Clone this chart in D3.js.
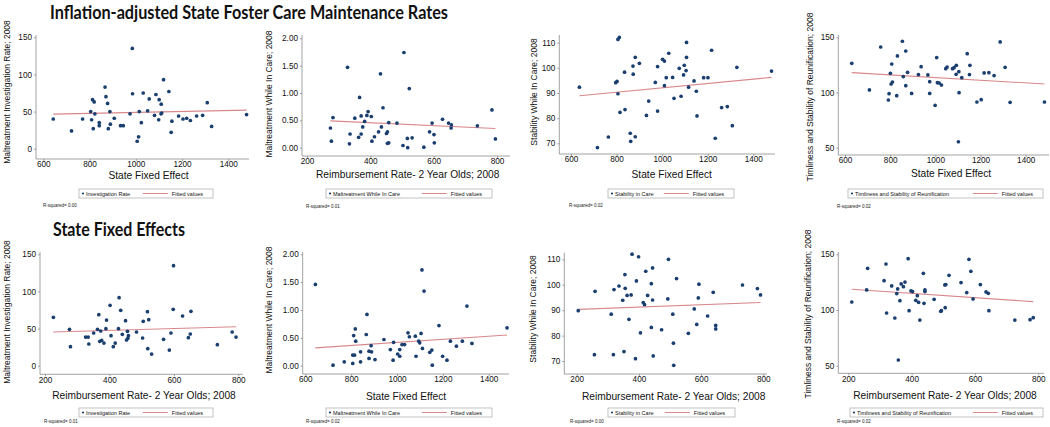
<!DOCTYPE html>
<html><head><meta charset="utf-8">
<script src="https://cdn.jsdelivr.net/npm/d3@7/dist/d3.min.js"></script>
<style>
body{margin:0;background:#fff;}
svg{display:block;font-family:"Liberation Sans",Arial,sans-serif;}
</style></head>
<body>
<svg id="c" width="1050" height="427"></svg>
<script>
// ---------- data ----------
const mainTitle = "Inflation-adjusted State Foster Care Maintenance Rates";
const subTitle = "State Fixed Effects";
const sfeTicks = [600, 800, 1000, 1200, 1400];
const reimbTicks = [200, 400, 600, 800];
const rateTicks = [0, 50, 100, 150];
const careTicks = [0, 0.5, 1, 1.5, 2];
const stabTicks = [70, 80, 90, 100, 110];
const timeTicks = [50, 100, 150];
const xTitles = ["State Fixed Effect", "Reimbursement Rate- 2 Year Olds; 2008"];
const yTitles = ["Maltreatment Investigation Rate; 2008", "Maltreatment While In Care; 2008",
  "Stability While In Care; 2008", "Timliness and Stability of Reunification; 2008"];
const seriesNames = ["Investigation Rate", "Maltreatment While In Care", "Stability in Care",
  "Timliness and Stability of Reunification"];
const fitName = "Fitted values";
const rSquared = ["0.00", "0.01", "0.02", "0.02", "0.01", "0.02", "0.00", "0.02"];

const investBySfe = [[643,40],[722,24],[770,40],[805,50],[809,39],[813,66],[816,27],[820,63],[823,47],[842,31],[842,35],[867,83],[871,70],[878,61],[881,27],[888,50],[890,33],[907,41],[934,31],[946,31],[975,47],[985,135],[986,74],[1006,10],[1012,16],[1015,50],[1024,35],[1032,75],[1051,51],[1058,67],[1081,45],[1087,73],[1099,39],[1101,66],[1109,47],[1110,60],[1112,48],[1120,93],[1143,77],[1156,37],[1153,22],[1185,44],[1204,40],[1220,41],[1236,38],[1263,44],[1289,45],[1309,62],[1328,30],[1479,46]];
const maltreatByReimb = [[282,0.55],[274,0.36],[277,0.12],[328,1.47],[334,0.07],[336,0.25],[351,0.54],[363,0.19],[366,0.92],[371,0.58],[371,0.25],[376,0.38],[382,0.48],[389,0.59],[393,0.66],[403,0.57],[405,0.12],[413,0.20],[426,0.29],[432,1.35],[435,0.38],[440,0.73],[451,0.26],[454,0.29],[454,0.08],[458,0.09],[458,0.46],[484,0.45],[503,0.04],[506,1.74],[517,0.17],[518,0.00],[523,1.08],[532,0.18],[569,0.01],[587,0.29],[595,0.45],[601,0.24],[602,0.09],[628,0.52],[647,0.45],[656,0.42],[655,0.36],[738,0.40],[784,0.69],[795,0.16]];
const stabilityBySfe = [[637,92.3],[716,68.3],[764,72.5],[796,94.1],[802,94.6],[806,111.3],[812,112.1],[806,89.7],[815,82.3],[835,98.3],[837,83.4],[860,74.0],[862,70.8],[872,100.7],[873,97.5],[882,104.2],[882,72.6],[900,101.8],[931,81.1],[941,86.8],[970,94.2],[980,100.5],[980,82.8],[1002,103.4],[1010,102.7],[1010,92.9],[1018,96.1],[1029,105.8],[1046,96.2],[1052,87.9],[1075,99.8],[1083,88.7],[1094,97.2],[1097,101.0],[1105,98.9],[1107,110.1],[1107,104.2],[1116,92.3],[1140,94.8],[1150,90.7],[1153,80.9],[1182,96.1],[1201,96.1],[1217,107.0],[1233,72.0],[1261,84.2],[1286,84.6],[1308,77.0],[1328,100.2],[1480,98.7]];
const timelinessBySfe = [[630,126.4],[708,102.3],[758,141.2],[792,93.2],[795,98.9],[801,117.4],[804,107.7],[807,125.8],[810,109.5],[829,97.1],[832,133.1],[854,146.4],[858,114.4],[869,137.6],[869,106.2],[877,118.3],[895,99.2],[925,116.2],[937,123.4],[967,115.9],[975,109.8],[975,99.2],[999,88.4],[1006,131.6],[1009,108.9],[1017,108.6],[1027,106.8],[1046,121.6],[1052,123.1],[1076,121.6],[1083,122.5],[1093,124.6],[1092,116.5],[1104,118.9],[1105,99.8],[1102,55.4],[1117,113.4],[1141,135.2],[1151,116.2],[1153,124.6],[1184,91.4],[1203,93.5],[1216,117.7],[1237,118.0],[1260,115.3],[1287,145.8],[1309,122.8],[1331,91.1],[1483,91.4]];
const investByReimb = [[226,65.1],[276,49.0],[279,25.6],[326,38.6],[334,38.6],[336,29.2],[351,44.0],[363,49.0],[367,68.7],[370,32.8],[373,46.7],[376,34.1],[383,30.5],[389,49.8],[391,61.5],[402,81.3],[405,40.4],[412,25.6],[418,30.5],[428,49.8],[430,91.6],[435,74.5],[440,42.2],[450,60.6],[453,34.6],[456,46.3],[457,36.8],[459,40.4],[484,45.4],[503,37.3],[505,59.7],[518,72.8],[519,22.9],[522,62.0],[531,15.7],[568,35.5],[586,21.1],[591,44.0],[598,75.9],[599,134.7],[627,66.9],[645,37.7],[651,42.7],[653,73.2],[735,28.3],[781,45.4],[793,38.6]];
const maltreatBySfe = [[644,1.46],[721,0.01],[770,0.07],[807,0.19],[807,0.04],[811,0.54],[815,0.19],[818,0.66],[820,0.44],[841,0.25],[841,0.07],[866,0.56],[869,0.92],[878,0.26],[878,0.13],[887,0.36],[889,0.25],[904,0.11],[943,0.47],[971,0.29],[983,0.10],[985,0.42],[1003,0.21],[1012,0.29],[1012,0.17],[1022,0.38],[1033,0.38],[1048,0.59],[1054,0.52],[1080,0.53],[1083,0.17],[1095,0.44],[1099,0.41],[1105,0.58],[1109,1.72],[1111,0.31],[1118,1.34],[1143,0.24],[1152,0.28],[1154,0.01],[1183,0.72],[1199,0.17],[1218,0.10],[1233,0.44],[1259,0.35],[1285,0.44],[1305,1.07],[1327,0.40],[1480,0.68]];
const stabilityByReimb = [[205,89.8],[257,72.5],[259,97.4],[311,88.4],[318,72.5],[320,98.1],[336,99.5],[348,93.9],[352,73.7],[355,104.0],[356,98.6],[362,95.8],[368,86.4],[375,96.0],[378,112.0],[389,70.9],[392,101.5],[399,111.0],[405,81.1],[414,93.0],[418,92.2],[422,105.3],[428,95.8],[440,83.2],[440,100.4],[444,94.0],[444,106.6],[446,72.0],[473,82.3],[493,94.4],[495,110.0],[509,88.4],[511,77.0],[512,68.3],[521,102.4],[559,80.9],[578,90.5],[586,84.4],[591,94.8],[593,100.2],[621,87.7],[639,97.0],[647,84.0],[647,82.6],[733,99.9],[781,98.5],[791,96.0]];
const timelinessByReimb = [[211,107.2],[258,118.0],[261,137.4],[313,126.3],[319,141.3],[321,97.3],[337,121.6],[347,92.8],[353,114.7],[356,118.9],[358,55.1],[363,108.4],[367,123.4],[374,120.9],[379,125.1],[389,146.1],[392,99.4],[398,117.1],[403,116.5],[413,108.7],[418,112.9],[422,106.9],[426,91.0],[437,132.9],[439,106.0],[442,116.5],[442,118.0],[471,109.6],[492,98.8],[494,99.4],[505,122.5],[508,122.8],[506,102.1],[518,131.1],[556,124.6],[574,115.6],[581,145.5],[587,134.7],[594,109.9],[617,122.8],[635,116.2],[642,115.0],[644,99.4],[726,91.0],[774,91.3],[784,93.1]];

const fitInvestBySfe = [[643,46.5],[1479,52]];
const fitMaltreatByReimb = [[274,0.49],[795,0.35]];
const fitStabilityBySfe = [[637,88.9],[1480,96.2]];
const fitTimelinessBySfe = [[630,118],[1483,107.7]];
const fitInvestByReimb = [[226,45.4],[793,52.5]];
const fitMaltreatBySfe = [[644,0.32],[1480,0.55]];
const fitStabilityByReimb = [[205,90.3],[791,93]];
const fitTimelinessByReimb = [[211,118.6],[784,107.5]];

// ---------- layout ----------
const panels = [
 {d:investBySfe, f:fitInvestBySfe, xt:sfeTicks, yt:rateTicks, yf:d3.format("d"), xi:0, yi:0, si:0,
  xa:[600,43.3,1400,228.3], ya:[0,148.7,150,37.3], ax:36, ay:159, ar:249, at:35,
  yTp:[7,92], xTp:[148.5,175], lg:[79,213,189], r2:[43,205]},
 {d:maltreatByReimb, f:fitMaltreatByReimb, xt:reimbTicks, yt:careTicks, yf:d3.format(".2f"), xi:1, yi:1, si:1,
  xa:[200,307,800,497], ya:[0,147.7,2,38.3], ax:302, ay:156, ar:510, at:35,
  yTp:[269,94], xTp:[407.7,174], lg:[326,492,189], r2:[306,206]},
 {d:stabilityBySfe, f:fitStabilityBySfe, xt:sfeTicks, yt:stabTicks, yf:d3.format("d"), xi:0, yi:2, si:2,
  xa:[600,571,1400,753.3], ya:[70,143.3,110,42.7], ax:559.3, ay:154, ar:775, at:35,
  yTp:[534,92], xTp:[671.7,174], lg:[608,734,189], r2:[569,205]},
 {d:timelinessBySfe, f:fitTimelinessBySfe, xt:sfeTicks, yt:timeTicks, yf:d3.format("d"), xi:0, yi:3, si:3,
  xa:[600,845,1400,1025.7], ya:[50,147.7,150,37.3], ax:838.3, ay:155, ar:1049, at:35,
  yTp:[810,97], xTp:[951,173.5], lg:[848,1043,189], r2:[837,206]},
 {d:investByReimb, f:fitInvestByReimb, xt:reimbTicks, yt:rateTicks, yf:d3.format("d"), xi:1, yi:0, si:0,
  xa:[200,45,800,238.3], ya:[0,365.7,150,254.3], ax:40, ay:374.3, ar:243, at:252,
  yTp:[7,312], xTp:[144,395], lg:[79,213,408], r2:[44,421.5]},
 {d:maltreatBySfe, f:fitMaltreatBySfe, xt:sfeTicks, yt:careTicks, yf:d3.format(".2f"), xi:0, yi:1, si:1,
  xa:[600,305.3,1400,488.7], ya:[0,365.7,2,254.3], ax:302.7, ay:374, ar:509, at:252,
  yTp:[269,310], xTp:[406,396], lg:[326,492,408], r2:[306,421.5]},
 {d:stabilityByReimb, f:fitStabilityByReimb, xt:reimbTicks, yt:stabTicks, yf:d3.format("d"), xi:1, yi:2, si:2,
  xa:[200,576.7,800,763.3], ya:[70,361,110,259.3], ax:564.3, ay:374, ar:767, at:252.7,
  yTp:[533,309], xTp:[673.7,396], lg:[608,735,408], r2:[570,421.5]},
 {d:timelinessByReimb, f:fitTimelinessByReimb, xt:reimbTicks, yt:timeTicks, yf:d3.format("d"), xi:1, yi:3, si:3,
  xa:[200,848.3,800,1038.3], ya:[50,365.7,150,254.3], ax:838.3, ay:373.3, ar:1044, at:252,
  yTp:[808,314], xTp:[945,395], lg:[850,1043,408], r2:[837,421.5]}
];

const svg = d3.select("#c");
svg.append("rect").attr("width",1050).attr("height",427).attr("fill","#fff");
const dotColor = "#1a3f6f", fitColor = "#d9888c", axisColor = "#8a8a8a";

panels.forEach((p,i) => {
  const x = d3.scaleLinear().domain([p.xa[0],p.xa[2]]).range([p.xa[1],p.xa[3]]);
  const y = d3.scaleLinear().domain([p.ya[0],p.ya[2]]).range([p.ya[1],p.ya[3]]);
  const g = svg.append("g");
  g.append("line").attr("x1",p.ax).attr("x2",p.ax).attr("y1",p.at).attr("y2",p.ay)
    .attr("stroke",axisColor).attr("stroke-width",0.8);
  g.append("line").attr("x1",p.ax).attr("x2",p.ar).attr("y1",p.ay).attr("y2",p.ay)
    .attr("stroke",axisColor).attr("stroke-width",0.8);
  const xg = g.append("g").attr("transform",`translate(0,${p.ay})`)
    .call(d3.axisBottom(x).tickValues(p.xt).tickSize(2).tickPadding(0.5).tickFormat(d3.format("d")));
  const yg = g.append("g").attr("transform",`translate(${p.ax},0)`)
    .call(d3.axisLeft(y).tickValues(p.yt).tickSize(2).tickPadding(2).tickFormat(p.yf));
  [xg,yg].forEach(a => {
    a.select(".domain").remove();
    a.selectAll("line").attr("stroke",axisColor).attr("stroke-width",0.8);
    a.selectAll("text").attr("font-size",8.2).attr("fill","#111").attr("font-family","Liberation Sans, Arial, sans-serif");
  });
  g.append("path").attr("d", d3.line().x(d=>x(d[0])).y(d=>y(d[1]))(p.f))
    .attr("stroke",fitColor).attr("stroke-width",1.1).attr("fill","none");
  g.selectAll("circle.pt").data(p.d).join("circle").attr("class","pt")
    .attr("cx",d=>x(d[0])).attr("cy",d=>y(d[1])).attr("r",1.85).attr("fill",dotColor);
  g.append("text").attr("transform",`translate(${p.yTp[0]},${p.yTp[1]}) rotate(-90)`)
    .attr("text-anchor","middle").attr("dominant-baseline","central")
    .attr("font-size",8.5).attr("fill","#111").text(yTitles[p.yi]);
  g.append("text").attr("x",p.xTp[0]).attr("y",p.xTp[1])
    .attr("text-anchor","middle").attr("dominant-baseline","central")
    .attr("font-size",10.2).attr("fill","#111").text(xTitles[p.xi]);
  const [lx0,lx1,ly] = p.lg, lh = 9;
  g.append("rect").attr("x",lx0).attr("y",ly).attr("width",lx1-lx0).attr("height",lh)
    .attr("fill","#fff").attr("stroke","#9a9a9a").attr("stroke-width",0.6);
  g.append("circle").attr("cx",lx0+4).attr("cy",ly+lh/2).attr("r",1.1).attr("fill",dotColor);
  g.append("text").attr("x",lx0+7).attr("y",ly+lh/2).attr("dominant-baseline","central")
    .attr("font-size",5.5).attr("fill","#111").text(seriesNames[p.si]);
  const ft = g.append("text").attr("x",lx1-10).attr("y",ly+lh/2).attr("text-anchor","end")
    .attr("dominant-baseline","central").attr("font-size",5.5).attr("fill","#111").text(fitName);
  const fw = ft.node().getComputedTextLength();
  const fx = lx1-10-fw-4;
  g.append("line").attr("x1",fx-25).attr("x2",fx).attr("y1",ly+lh/2).attr("y2",ly+lh/2)
    .attr("stroke",fitColor).attr("stroke-width",1);
  g.append("text").attr("x",p.r2[0]).attr("y",p.r2[1]).attr("dominant-baseline","central")
    .attr("font-size",4.5).attr("fill","#222").text("R-squared= " + rSquared[i]);
});

svg.append("text").attr("x",50).attr("y",18.5).attr("font-family","Lato, 'Open Sans', sans-serif")
  .attr("font-weight","bold").attr("font-size",19).attr("fill","#111")
  .attr("textLength",398).attr("lengthAdjust","spacingAndGlyphs").text(mainTitle);
svg.append("text").attr("x",53).attr("y",236).attr("font-family","Lato, 'Open Sans', sans-serif")
  .attr("font-weight","bold").attr("font-size",18).attr("fill","#111")
  .attr("textLength",132).attr("lengthAdjust","spacingAndGlyphs").text(subTitle);
</script>
</body></html>
